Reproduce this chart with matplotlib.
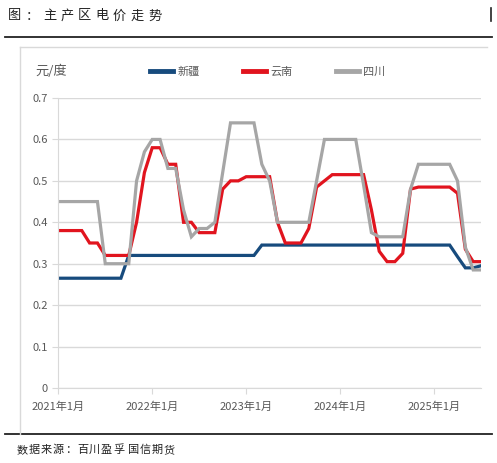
import matplotlib
matplotlib.use("Agg")
import matplotlib.pyplot as plt
from matplotlib.lines import Line2D
import numpy as np

plt.rcParams['font.family'] = ['Noto Sans CJK SC', 'DejaVu Sans']

W, H = 497, 463

# monthly prices, 2021-01 .. 2025-07 (yuan / kWh)
xinjiang = [0.265] * 9 + [0.32] * 17 + [0.345] * 25 + [0.317, 0.29, 0.29, 0.295]
yunnan = [0.38, 0.38, 0.38, 0.38, 0.35, 0.35, 0.32, 0.32, 0.32, 0.32,
          0.40, 0.52, 0.58, 0.58, 0.54, 0.54, 0.40, 0.40, 0.375, 0.375,
          0.375, 0.48, 0.50, 0.50, 0.51, 0.51, 0.51, 0.51, 0.40, 0.35,
          0.35, 0.35, 0.385, 0.485, 0.50, 0.515, 0.515, 0.515, 0.515, 0.515,
          0.43, 0.33, 0.305, 0.305, 0.325, 0.48, 0.485, 0.485, 0.485, 0.485,
          0.485, 0.47, 0.335, 0.305, 0.305]
sichuan = [0.45, 0.45, 0.45, 0.45, 0.45, 0.45, 0.30, 0.30, 0.30, 0.30,
           0.50, 0.57, 0.60, 0.60, 0.53, 0.53, 0.43, 0.365, 0.385, 0.385,
           0.40, 0.52, 0.64, 0.64, 0.64, 0.64, 0.54, 0.50, 0.40, 0.40,
           0.40, 0.40, 0.40, 0.50, 0.60, 0.60, 0.60, 0.60, 0.60, 0.49,
           0.375, 0.365, 0.365, 0.365, 0.365, 0.48, 0.54, 0.54, 0.54, 0.54,
           0.54, 0.50, 0.34, 0.285, 0.285]
series_names = ['新疆', '云南', '四川']
series_colors = ['#174B7D', '#E1141E', '#A6A6A6']
tick_labels = ['2021年1月', '2022年1月', '2023年1月', '2024年1月', '2025年1月']
y_ticks = [0, 0.1, 0.2, 0.3, 0.4, 0.5, 0.6, 0.7]

fig = plt.figure(figsize=(W / 100, H / 100), dpi=100)


def fx(px):
    return px / W


def fy(py):
    return 1 - py / H


def spaced_text(x, y, s, size, step, space=None, color='#222222'):
    if space is None:
        space = step
    pos = x
    for ch in s:
        if ch == ' ':
            pos += space
            continue
        fig.text(fx(pos), fy(y), ch, fontsize=size, color=color,
                 va='center', ha='left')
        pos += step


# header / footer
spaced_text(8, 16, '图：主产区电价走势', 9.5, 17.5)
fig.add_artist(Line2D([fx(491), fx(491)], [fy(8), fy(21)], color='#222222', lw=1.2))
fig.add_artist(Line2D([fx(5), fx(492)], [fy(37), fy(37)], color='#222222', lw=1.3))
fig.add_artist(Line2D([fx(5), fx(492)], [fy(434), fy(434)], color='#222222', lw=1.3))
spaced_text(17, 450, '数据来源：百川盈孚 国信期货', 8, 12, space=3)

# light chart frame (top and left only)
fig.add_artist(Line2D([fx(20), fx(487)], [fy(47), fy(47)], color='#D9D9D9', lw=1))
fig.add_artist(Line2D([fx(19.5), fx(19.5)], [fy(47), fy(434)], color='#D9D9D9', lw=1))

ax = fig.add_axes([fx(58.3), fy(388), fx(481) - fx(58.3), fy(98) - fy(388)])
x = np.arange(len(yunnan))
for vals, name, col in zip([xinjiang, yunnan, sichuan], series_names, series_colors):
    ax.plot(x[:len(vals)], vals, color=col, lw=2.3, label=name, solid_joinstyle='miter')

ax.set_xlim(0, 54)
ax.set_ylim(0, 0.7)
ax.set_yticks(y_ticks)
ax.set_yticklabels(['0', '0.1', '0.2', '0.3', '0.4', '0.5', '0.6', '0.7'])
ax.set_xticks([0, 12, 24, 36, 48])
ax.set_xticklabels(tick_labels)
ax.grid(axis='y', color='#D9D9D9', lw=1)
ax.set_axisbelow(True)
for s in ['top', 'right']:
    ax.spines[s].set_visible(False)
ax.spines['left'].set_color('#D9D9D9')
ax.spines['bottom'].set_color('#D9D9D9')
ax.tick_params(axis='both', colors='#D9D9D9', labelcolor='#595959', labelsize=8, length=4)
ax.tick_params(axis='x', pad=6)

fig.text(fx(35), fy(71), '元/度', fontsize=9.5, color='#595959', va='center', ha='left')

handles = [Line2D([0], [0], color=c, lw=3.5) for c in series_colors]
leg = fig.legend(handles, series_names, loc='center left', bbox_to_anchor=(fx(150), fy(72)),
                 ncol=3, frameon=False, fontsize=8, handlelength=2.1, handletextpad=0.35,
                 columnspacing=3.9, borderpad=0, borderaxespad=0, labelcolor='#595959')

fig.savefig('out.png', dpi=100)
